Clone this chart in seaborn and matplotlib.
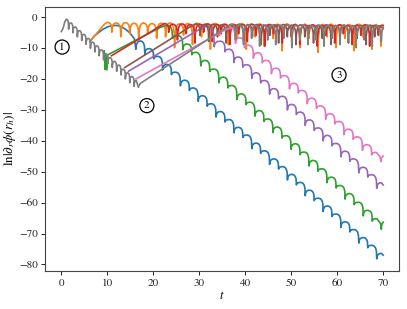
import matplotlib
matplotlib.use("Agg")
import matplotlib.pyplot as plt
import pandas as pd
import seaborn as sns

# ------------------------------------------------------------------ data
# common trunk (gray), oscillating decay before the branches
trunk_lead_t = [0.0, 0.4, 0.75]
trunk_lead_y = [-4.8, -3.6, -1.6]
trunk_peak_t = [1.1, 2.05, 3.0, 3.95, 4.9, 5.85, 6.8, 7.75, 8.7, 9.65, 10.6,
                11.55, 12.5, 13.45, 14.4, 15.35, 16.3]
trunk_peak_y = [-0.8, -2.0, -3.3, -4.5, -5.7, -7.0, -8.2, -9.4, -10.7, -11.9,
                -13.2, -14.4, -15.6, -16.9, -18.1, -19.3, -20.6]
trunk_dip_y = [-4.0, -5.2, -6.5, -7.7, -8.9, -10.2, -11.4, -12.6, -13.9,
               -15.1, -16.4, -17.6, -18.8, -20.1, -21.3, -22.5]

# gray after the trunk: jump line, then oscillation near the top
gray_link_t = [16.75, 17.1]
gray_link_y = [-22.8, -21.6]
gray_peak_t = [37.0, 38.75, 40.5, 42.25, 44.0, 45.75, 47.5, 49.25, 51.0, 52.75,
               54.5, 56.25, 58.0, 59.75, 61.5, 63.25, 65.0, 66.75, 68.5]
gray_peak_y = [-2.4, -2.6, -2.5, -2.7, -2.6, -2.8, -2.7, -2.6, -2.8, -2.7,
               -2.9, -2.7, -2.8, -2.9, -2.7, -2.8, -3.0, -2.8, -2.9]
gray_dip_y = [-7.5, -9.0, -7.0, -9.5, -7.5, -9.0, -7.0, -10.0, -7.5, -9.0,
              -7.5, -9.5, -7.0, -9.0, -8.0, -10.0, -7.5, -9.5]
gray_end_t = [69.3, 69.6, 69.7, 70.0]
gray_end_y = [-4.0, -8.0, -5.0, -3.5]

# blue: branch at t~6, hump, then decay
blue_lead_t = [6.2, 7.0, 8.0, 9.0, 10.0, 11.0, 12.0, 13.0, 14.0, 15.0, 15.9,
               16.2, 16.3, 16.7]
blue_lead_y = [-8.0, -6.5, -5.2, -4.1, -3.3, -2.9, -2.8, -3.2, -4.1, -5.4,
               -7.2, -10.5, -9.0, -8.0]
blue_peak_t = [17.2, 19.1, 21.05, 23.0, 24.9, 26.9, 28.8, 30.75, 32.7, 34.6,
               36.6, 38.5, 40.45, 42.4, 44.3, 46.3, 48.2, 50.15, 52.1, 54.0,
               56.0, 57.9, 59.85, 61.8, 63.7, 65.7, 67.6, 69.6]
blue_peak_y = [-7.8, -10.3, -12.8, -15.4, -17.9, -20.5, -23.0, -25.5, -28.1,
               -30.6, -33.2, -35.7, -38.2, -40.8, -43.3, -45.9, -48.4, -50.9,
               -53.5, -56.0, -58.6, -61.1, -63.7, -66.2, -68.7, -71.3, -73.8,
               -76.4]
blue_dip_y = [-12.1, -13.6, -17.2, -18.7, -22.3, -23.8, -27.3, -28.9, -32.4,
              -34.0, -37.5, -39.0, -42.6, -44.1, -47.7, -49.2, -52.7, -54.3,
              -57.8, -59.4, -62.9, -64.5, -68.0, -69.5, -73.1, -74.6, -78.2]
blue_end_t = [70.0]
blue_end_y = [-77.0]

# orange: branch at t~6, stays near the top
orange_lead_t = [6.2, 9.3]
orange_lead_y = [-8.0, -2.5]
orange_peak_t = [10.0, 11.95, 13.9, 15.85, 17.8, 19.75, 21.7, 23.65, 25.6,
                 27.55, 29.5, 31.45, 33.4, 35.35, 37.3, 39.25, 41.2, 43.15,
                 45.1, 47.05, 49.0, 50.95, 52.9, 54.85, 56.8, 58.75, 60.7,
                 62.65, 64.6, 66.55, 68.5]
orange_peak_y = [-1.8, -2.0, -1.9, -2.1, -2.0, -2.2, -2.1, -2.0, -2.3, -2.2,
                 -2.1, -2.3, -2.2, -2.4, -2.3, -2.2, -2.4, -2.3, -2.5, -2.4,
                 -2.3, -2.5, -2.4, -2.6, -2.5, -2.4, -2.6, -2.5, -2.4, -2.6,
                 -2.5]
orange_dip_y = [-5.0, -6.5, -5.5, -7.5, -5.5, -7.0, -6.5, -10.0, -6.0, -9.0,
                -6.5, -10.5, -6.0, -9.0, -7.0, -10.5, -6.5, -9.5, -7.0, -11.0,
                -6.5, -10.0, -7.0, -11.5, -6.5, -10.0, -7.0, -11.0, -6.5,
                -10.5]
orange_end_t = [69.4, 69.5, 69.6, 70.0]
orange_end_y = [-4.5, -9.5, -5.0, -3.0]

# green: branch at t~10, decay after t~23
green_lead_t = [9.3, 9.5, 9.65, 9.9, 10.1, 21.6]
green_lead_y = [-11.0, -17.0, -12.2, -17.2, -12.3, -3.4]
green_peak_t = [22.9, 25.45, 27.4, 29.35, 31.3, 33.3, 35.25, 37.2, 39.2,
                41.15, 43.1, 45.05, 47.0, 49.0, 50.95, 52.9, 54.85, 56.8,
                58.8, 60.75, 62.7, 64.7, 66.65, 68.6]
green_peak_y = [-2.8, -6.1, -8.8, -11.5, -14.1, -16.9, -19.5, -22.2, -24.9,
                -27.6, -30.3, -33.0, -35.6, -38.4, -41.0, -43.7, -46.4, -49.1,
                -51.8, -54.5, -57.1, -59.9, -62.5, -65.2]
green_dip_y = [-7.0, -10.6, -12.3, -15.9, -17.7, -21.3, -23.0, -26.7, -28.4,
               -32.1, -33.8, -37.4, -39.2, -42.8, -44.5, -48.2, -49.9, -53.6,
               -55.3, -58.9, -60.7, -64.3, -66.0]
green_end_t = [69.45, 69.6, 69.65, 70.0]
green_end_y = [-66.8, -68.6, -67.3, -66.3]

# red: branch at t~11, stays near the top
red_lead_t = [10.9, 21.6]
red_lead_y = [-12.6, -2.9]
red_peak_t = [22.4, 24.3, 26.2, 28.1, 30.0, 31.9, 33.8, 35.7, 37.6, 39.5,
              41.4, 43.3, 45.2, 47.1, 49.0, 50.9, 52.8, 54.7, 56.6, 58.5,
              60.4, 62.3, 64.2, 66.1, 68.0, 69.9]
red_peak_y = [-2.2, -2.4, -2.3, -2.5, -2.4, -2.3, -2.5, -2.4, -2.6, -2.5,
              -2.4, -2.6, -2.5, -2.7, -2.6, -2.5, -2.7, -2.6, -2.8, -2.7,
              -2.6, -2.8, -2.7, -2.6, -2.8, -2.7]
red_dip_y = [-5.0, -7.5, -5.5, -8.5, -5.0, -8.0, -5.5, -9.0, -5.5, -8.0,
             -6.0, -9.5, -5.5, -8.5, -6.0, -9.0, -5.5, -9.5, -6.0, -8.5,
             -5.5, -9.0, -6.0, -9.5, -6.0]
red_end_t = [70.0]
red_end_y = [-2.8]

# purple: branch at t~15, decay after t~32
purple_lead_t = [14.6, 30.6]
purple_lead_y = [-17.6, -3.6]
purple_peak_t = [31.9, 34.6, 36.6, 38.5, 40.45, 42.4, 44.3, 46.3, 48.2, 50.15,
                 52.1, 54.0, 56.0, 57.9, 59.85, 61.8, 63.7, 65.7, 67.6, 69.6]
purple_peak_y = [-3.0, -7.9, -10.5, -13.0, -15.5, -18.1, -20.6, -23.2, -25.7,
                 -28.3, -30.8, -33.3, -35.9, -38.3, -40.9, -43.4, -45.9,
                 -48.6, -51.0, -53.6]
purple_dip_y = [-9.7, -11.3, -14.8, -16.3, -19.9, -21.4, -25.0, -26.5, -30.1,
                -31.6, -35.1, -36.7, -40.1, -41.7, -45.2, -46.7, -50.4, -51.8,
                -55.4]
purple_end_t = [70.0]
purple_end_y = [-54.3]

# brown: branch at t~14, stays near the top
brown_lead_t = [13.8, 28.4]
brown_lead_y = [-16.4, -2.9]
brown_peak_t = [29.2, 31.1, 33.0, 34.9, 36.8, 38.7, 40.6, 42.5, 44.4, 46.3,
                48.2, 50.1, 52.0, 53.9, 55.8, 57.7, 59.6, 61.5, 63.4, 65.3,
                67.2, 69.1]
brown_peak_y = [-2.3, -2.5, -2.4, -2.6, -2.5, -2.4, -2.6, -2.5, -2.7, -2.6,
                -2.5, -2.7, -2.6, -2.8, -2.7, -2.6, -2.8, -2.7, -2.9, -2.8,
                -2.7, -2.9]
brown_dip_y = [-6.0, -8.0, -6.5, -8.5, -6.0, -8.0, -6.5, -9.0, -6.0, -8.5,
               -6.5, -9.0, -6.5, -8.5, -7.0, -9.0, -6.5, -8.5, -7.0, -9.0,
               -6.5]
brown_end_t = [70.0]
brown_end_y = [-3.8]

# pink: branch at t~16, decay after t~37
pink_lead_t = [16.2, 35.6]
pink_lead_y = [-20.1, -4.3]
pink_peak_t = [36.9, 38.85, 40.8, 42.75, 44.7, 46.7, 48.65, 50.6, 52.5, 54.5,
               56.5, 58.5, 60.5, 62.5, 64.5, 66.5, 68.5]
pink_peak_y = [-3.6, -6.8, -9.2, -11.6, -14.1, -16.6, -19.0, -21.5, -23.8,
               -26.3, -28.8, -31.3, -33.8, -36.3, -38.8, -41.3, -43.8]
pink_dip_y = [-8.6, -10.0, -13.4, -14.9, -18.4, -19.8, -23.3, -24.6, -28.1,
              -29.6, -33.1, -34.6, -38.1, -39.6, -43.1, -44.6]
pink_end_t = [69.3, 69.5, 69.55, 70.0]
pink_end_y = [-45.2, -46.8, -45.8, -45.0]

series_names = ["blue", "orange", "green", "red", "purple", "brown", "pink", "gray"]
series_colors = ["#1f77b4", "#ff7f0e", "#2ca02c", "#d62728",
                 "#9467bd", "#8c564b", "#e377c2", "#7f7f7f"]

label_t = [0.15, 18.6, 60.4]
label_y = [-9.8, -28.7, -18.8]
label_text = ["1", "2", "3"]

x_ticks = [0, 10, 20, 30, 40, 50, 60, 70]
y_ticks = [0, -10, -20, -30, -40, -50, -60, -70, -80]

# ------------------------------------------------------------------ drawing helpers
# shape of one arch leg (fraction of half period, fraction of drop to the dip)
RIGHT_LEG = [(0.45, 0.06), (0.75, 0.2), (0.92, 0.42)]
LEFT_LEG = [(0.06, 0.55), (0.3, 0.2), (0.6, 0.05)]


def arches(pt, py, dy):
    ts, ys = [], []
    for i in range(len(pt)):
        ts.append(pt[i])
        ys.append(py[i])
        if i < len(dy) and i + 1 < len(pt):
            p0, p1, d = py[i], py[i + 1], dy[i]
            m = 0.5 * (pt[i] + pt[i + 1])
            h0, h1 = m - pt[i], pt[i + 1] - m
            for f, g in RIGHT_LEG:
                ts.append(pt[i] + f * h0)
                ys.append(p0 - g * (p0 - d))
            ts.append(m)
            ys.append(d)
            for f, g in LEFT_LEG:
                ts.append(m + f * h1)
                ys.append(p1 - g * (p1 - d))
    return ts, ys


def chain(*parts):
    ts, ys = [], []
    for t, y in parts:
        ts += list(t)
        ys += list(y)
    return ts, ys


curves = {
    "blue": chain((blue_lead_t, blue_lead_y),
                  arches(blue_peak_t, blue_peak_y, blue_dip_y),
                  (blue_end_t, blue_end_y)),
    "orange": chain((orange_lead_t, orange_lead_y),
                    arches(orange_peak_t, orange_peak_y, orange_dip_y),
                    (orange_end_t, orange_end_y)),
    "green": chain((green_lead_t, green_lead_y),
                   arches(green_peak_t, green_peak_y, green_dip_y),
                   (green_end_t, green_end_y)),
    "red": chain((red_lead_t, red_lead_y),
                 arches(red_peak_t, red_peak_y, red_dip_y),
                 (red_end_t, red_end_y)),
    "purple": chain((purple_lead_t, purple_lead_y),
                    arches(purple_peak_t, purple_peak_y, purple_dip_y),
                    (purple_end_t, purple_end_y)),
    "brown": chain((brown_lead_t, brown_lead_y),
                   arches(brown_peak_t, brown_peak_y, brown_dip_y),
                   (brown_end_t, brown_end_y)),
    "pink": chain((pink_lead_t, pink_lead_y),
                  arches(pink_peak_t, pink_peak_y, pink_dip_y),
                  (pink_end_t, pink_end_y)),
    "gray": chain((trunk_lead_t, trunk_lead_y),
                  arches(trunk_peak_t, trunk_peak_y, trunk_dip_y),
                  (gray_link_t, gray_link_y),
                  arches(gray_peak_t, gray_peak_y, gray_dip_y),
                  (gray_end_t, gray_end_y)),
}

rows = []
for name in series_names:
    t, y = curves[name]
    for i, (a, b) in enumerate(zip(t, y)):
        rows.append({"t": a, "y": b, "curve": name, "idx": i})
df = pd.DataFrame(rows)

# ------------------------------------------------------------------ figure
plt.rcParams["font.family"] = ["STIXGeneral", "DejaVu Serif"]
plt.rcParams["mathtext.fontset"] = "stix"

fig = plt.figure(figsize=(4.07, 3.09), dpi=100)
ax = fig.add_axes([0.1113, 0.123, 0.8697, 0.855])

sns.lineplot(data=df, x="t", y="y", hue="curve", hue_order=series_names,
             palette=series_colors, estimator=None, sort=False, legend=False,
             linewidth=1.2, ax=ax)

for tx, ty, s in zip(label_t, label_y, label_text):
    ax.text(tx, ty, s, ha="center", va="center", fontsize=8,
            bbox=dict(boxstyle="circle,pad=0.2", fc="white", ec="black", lw=0.9))

ax.set_xlim(-3.5, 73.5)
ax.set_ylim(-82.1, 3.2)
ax.set_xticks(x_ticks)
ax.set_yticks(y_ticks)
ax.tick_params(labelsize=8, length=3, width=0.7, colors="#222", pad=2.5)
for sp in ax.spines.values():
    sp.set_color("#444")
    sp.set_linewidth(0.8)
ax.set_xlabel(r"$t$", fontsize=9, labelpad=1)
ax.set_ylabel(r"$\ln|\partial_r\phi(r_h)|$", fontsize=9.5, labelpad=1)

fig.savefig("out.png", dpi=100)
